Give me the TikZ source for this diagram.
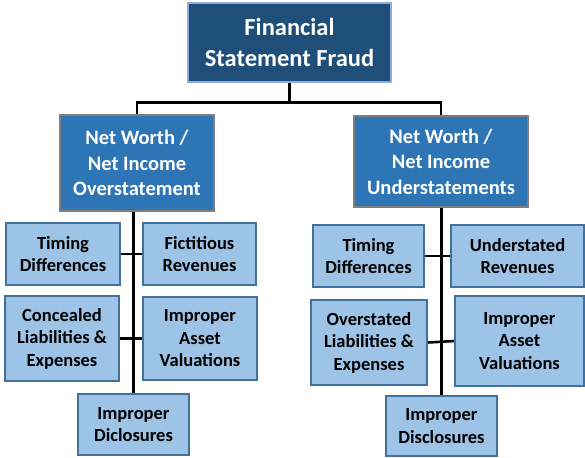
\documentclass[tikz,border=0pt]{standalone}
\usepackage{fontspec}
\setmainfont{Carlito}
\definecolor{topblue}{HTML}{1F4E79}
\definecolor{midblue}{HTML}{2E75B6}
\definecolor{leafblue}{HTML}{9DC3E6}
\definecolor{leafedge}{HTML}{41719C}
\definecolor{midedge}{HTML}{7F7F7F}
\definecolor{topedge}{HTML}{8FAADC}
\pgfdeclarelayer{bg}
\pgfsetlayers{bg,main}
\begin{document}
\begin{tikzpicture}[x=1pt,y=1pt,
  base/.style={rectangle,align=center,inner sep=1pt,font=\bfseries},
  topbox/.style={base,fill=topblue,draw=topedge,line width=1.2pt,text=white,font=\bfseries\fontsize{24.5}{31}\selectfont},
  midbox/.style={base,fill=midblue,draw=midedge,line width=1.2pt,text=white,font=\bfseries\fontsize{20.5}{25.5}\selectfont},
  leafbox/.style={base,fill=leafblue,draw=leafedge,line width=1.2pt,text=black,font=\bfseries\fontsize{18.5}{22.5}\selectfont},
  conn/.style={draw=black,line width=2.6pt}]
\useasboundingbox (0,0) rectangle (585,-457);
% nodes
\node[topbox,minimum width=203,minimum height=79] (top) at (289.5,-42.5) {Financial\\Statement Fraud};
\node[midbox,minimum width=154,minimum height=96] (L) at (137,-163) {Net Worth /\\Net Income\\Overstatement};
\node[midbox,minimum width=174,minimum height=91] (R) at (441,-161.5) {Net Worth /\\Net Income\\Understatements};
% left leaves
\node[leafbox,minimum width=114,minimum height=62] (tdL) at (63,-254) {Timing\\Differences};
\node[leafbox,minimum width=113,minimum height=62] (frL) at (199.5,-254) {Fictitious\\Revenues};
\node[leafbox,minimum width=114,minimum height=85] (clL) at (62,-338.5) {Concealed\\Liabilities \&\\Expenses};
\node[leafbox,minimum width=114,minimum height=83] (iavL) at (200,-338.5) {Improper\\Asset\\Valuations};
\node[leafbox,minimum width=111,minimum height=61] (idL) at (133.5,-424.5) {Improper\\Diclosures};
% right leaves
\node[leafbox,minimum width=111,minimum height=62] (tdR) at (368.5,-256) {Timing\\Differences};
\node[leafbox,minimum width=133,minimum height=62] (urR) at (517.5,-256) {Understated\\Revenues};
\node[leafbox,minimum width=116,minimum height=85] (olR) at (369,-342.5) {Overstated\\Liabilities \&\\Expenses};
\node[leafbox,minimum width=129,minimum height=90] (iavR) at (519.5,-341) {Improper\\Asset\\Valuations};
\node[leafbox,minimum width=111,minimum height=60] (idR) at (441.5,-426) {Improper\\Disclosures};
% connectors behind boxes
\begin{pgfonlayer}{bg}
\coordinate (bar) at (0,-102.5);
\draw[conn] (top.south) -- (top.south |- bar) -| (L.north);
\draw[conn] (top.south |- bar) -| (R.north);
\draw[conn] (idL.north |- L.south) -- (idL.north);
\draw[conn] (tdL.east) -- (frL.west);
\draw[conn] (clL.east) -- (iavL.west);
\draw[conn] (idR.north |- R.south) -- (idR.north);
\draw[conn] (tdR.east) -- (urR.west);
\draw[conn] (olR.east) -- (iavR.west);
\end{pgfonlayer}
\end{tikzpicture}
\end{document}
